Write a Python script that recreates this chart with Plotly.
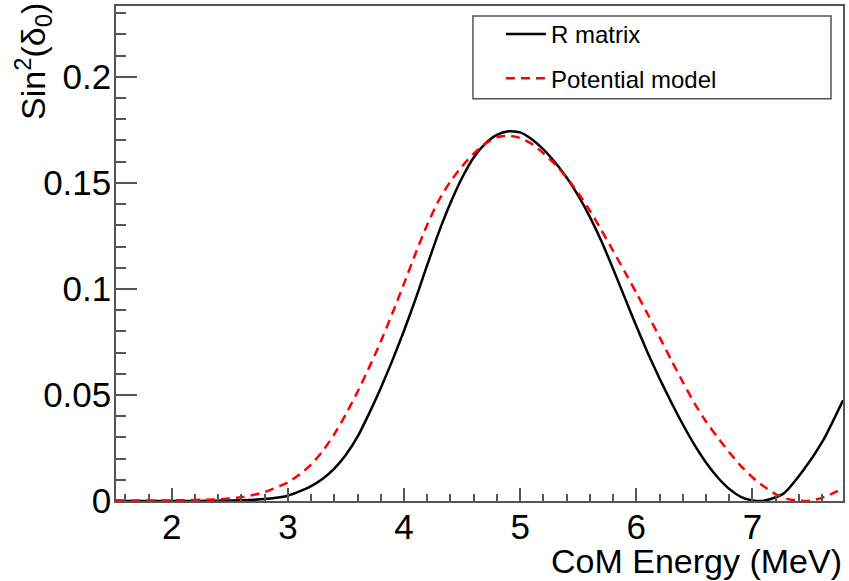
import plotly.graph_objects as go

# R matrix curve
rm_x = [1.52, 2.0, 2.4, 2.6, 2.8, 2.9, 3.0, 3.1, 3.2, 3.3, 3.4, 3.5, 3.6, 3.7, 3.8, 3.9,
        4.0, 4.1, 4.2, 4.3, 4.4, 4.5, 4.6, 4.7, 4.8, 4.9, 5.0, 5.1, 5.2, 5.3, 5.4, 5.5,
        5.6, 5.7, 5.8, 5.9, 6.0, 6.1, 6.2, 6.3, 6.4, 6.5, 6.6, 6.7, 6.8, 6.9, 7.0, 7.07,
        7.15, 7.27, 7.44, 7.61, 7.78]
rm_y = [0.0, 0.0, 0.0001, 0.0003, 0.0009, 0.0015, 0.0025, 0.0045, 0.007, 0.0105, 0.0153,
        0.0218, 0.0303, 0.0413, 0.0533, 0.0663, 0.0803, 0.0953, 0.1113, 0.1268, 0.1405,
        0.1524, 0.1620, 0.1685, 0.1726, 0.1743, 0.1738, 0.1706, 0.1658, 0.1597, 0.1525,
        0.1440, 0.1340, 0.1225, 0.1095, 0.0960, 0.0825, 0.0697, 0.0578, 0.0467, 0.0362,
        0.0266, 0.0182, 0.0112, 0.0057, 0.0020, 0.0003, 0.0, 0.0008, 0.0036, 0.0146,
        0.0287, 0.0475]

# Potential model curve
pm_x = [1.52, 2.0, 2.4, 2.6, 2.8, 3.0, 3.1, 3.2, 3.3, 3.4, 3.5, 3.6, 3.7, 3.8, 3.9, 4.0,
        4.1, 4.2, 4.3, 4.4, 4.5, 4.6, 4.7, 4.8, 4.9, 5.0, 5.1, 5.2, 5.3, 5.4, 5.5, 5.6,
        5.7, 5.8, 5.9, 6.0, 6.1, 6.2, 6.3, 6.4, 6.5, 6.6, 6.7, 6.8, 6.9, 7.0, 7.1, 7.2,
        7.3, 7.4, 7.5, 7.6, 7.7, 7.78]
pm_y = [0.0003, 0.0003, 0.0008, 0.0018, 0.0042, 0.0088, 0.0125, 0.0172, 0.0235, 0.0315,
        0.0410, 0.0515, 0.0630, 0.0752, 0.0885, 0.1025, 0.1168, 0.1303, 0.1418, 0.1507,
        0.1578, 0.1638, 0.1685, 0.1715, 0.1722, 0.1712, 0.1684, 0.1640, 0.1588, 0.1525,
        0.1452, 0.1369, 0.1277, 0.1180, 0.1082, 0.0982, 0.0879, 0.0773, 0.0666, 0.0562,
        0.0462, 0.0375, 0.0300, 0.0230, 0.0166, 0.0112, 0.0068, 0.0032, 0.0010, 0.0001,
        0.0002, 0.0015, 0.0038, 0.006]

x_ticks = [2, 3, 4, 5, 6, 7]
y_ticks = [0, 0.05, 0.1, 0.15, 0.2]
y_tick_labels = ["0", "0.05", "0.1", "0.15", "0.2"]

FONT = "Liberation Sans, Arial, Helvetica, sans-serif"
AXC = "#555555"

fig = go.Figure()
fig.add_trace(go.Scatter(x=rm_x, y=rm_y, mode="lines", name="R matrix",
                         legendgroup="a",
                         line=dict(color="black", width=2.5, shape="spline", smoothing=0.6)))
fig.add_trace(go.Scatter(x=pm_x, y=pm_y, mode="lines", name="Potential model",
                         legendgroup="b",
                         line=dict(color="#ff0000", width=2.5, dash="9px,6px",
                                   shape="spline", smoothing=0.6)))

# legend frame box (paper coordinates)
fig.add_shape(type="rect", xref="paper", yref="paper",
              x0=0.491, x1=0.9835, y0=0.8125, y1=0.9798,
              line=dict(color=AXC, width=1.5), fillcolor="white", layer="above")

fig.update_layout(
    width=849, height=581,
    margin=dict(l=116, r=4, t=5, b=80),
    paper_bgcolor="white", plot_bgcolor="white",
    font=dict(family=FONT, color="black"),
    showlegend=True,
    legend=dict(x=0.5295, y=0.988, xanchor="left", yanchor="top",
                borderwidth=0, bgcolor="rgba(0,0,0,0)",
                font=dict(size=24, family=FONT, color="black"),
                traceorder="grouped", tracegroupgap=10, itemwidth=40),
    xaxis=dict(range=[1.52, 7.78], tickmode="array", tickvals=x_ticks,
               ticks="inside", ticklen=13, tickwidth=1.5, tickcolor=AXC,
               showline=True, linecolor=AXC, linewidth=1.5, mirror=True,
               showgrid=False, zeroline=False, ticklabelstandoff=-6,
               tickfont=dict(size=35, family=FONT, color="black"),
               minor=dict(dtick=0.2, ticks="inside", ticklen=7, tickcolor=AXC, tickwidth=1.5,
                          showgrid=False)),
    yaxis=dict(range=[0, 0.2334], tickmode="array", tickvals=y_ticks, ticktext=y_tick_labels,
               ticks="inside", ticklen=21, tickwidth=1.5, tickcolor=AXC,
               showline=True, linecolor=AXC, linewidth=1.5, mirror=True,
               showgrid=False, zeroline=False, ticklabelstandoff=-4,
               tickfont=dict(size=35, family=FONT, color="black"),
               minor=dict(dtick=0.01, tick0=0, ticks="inside", ticklen=10, tickcolor=AXC,
                          tickwidth=1.5, showgrid=False)),
)

fig.add_annotation(text="CoM Energy (MeV)", xref="paper", yref="paper",
                   x=1.002, y=-0.079, xanchor="right", yanchor="top", showarrow=False,
                   font=dict(size=34, family=FONT, color="black"))
fig.add_annotation(text="Sin<sup>2</sup>(δ<sub>0</sub>)", xref="paper", yref="paper",
                   x=-0.115, y=1.01, xanchor="center", yanchor="top", textangle=-90,
                   showarrow=False, font=dict(size=34, family=FONT, color="black"))

fig.write_html("out.html", config={"displayModeBar": False},
               post_script="document.body.style.margin='0px';")
